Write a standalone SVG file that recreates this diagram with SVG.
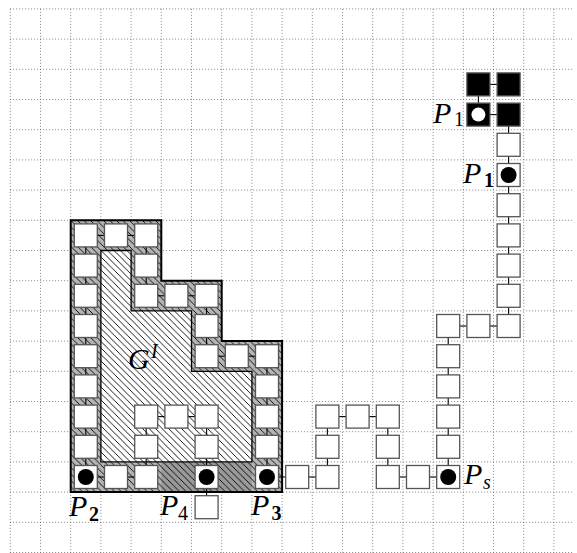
<svg xmlns="http://www.w3.org/2000/svg" width="577" height="553" viewBox="0 0 577 553">
<style>
.grid{stroke:#444;stroke-width:0.8;stroke-dasharray:0.8 2.2;fill:none}
.box{fill:#fff;stroke:#555;stroke-width:1.3}
.blk{fill:#000;stroke:#555;stroke-width:1.3}
.dot{fill:#000}
.wdot{fill:#fff}
.con line{stroke:#000;stroke-width:1.1}
.lbl{font-family:"Liberation Serif","Times New Roman",serif;font-style:italic;font-size:30px;fill:#000}
.sub{font-family:"Liberation Serif","Times New Roman",serif;font-size:20px;fill:#000}
.b{font-weight:bold;font-style:normal}
.i{font-style:italic}
</style>
<defs>
<pattern id="hatch" patternUnits="userSpaceOnUse" width="6.5" height="6.5">
<path d="M0,0 L6.5,6.5 M-1,5.5 L1,7.5 M5.5,-1 L7.5,1" stroke="#000" stroke-width="0.9"/>
</pattern>
</defs>
<g id="grid">
<path class="grid" d="M10.3,8.9V552.5M40.5,8.9V552.5M70.7,8.9V552.5M100.9,8.9V552.5M131.1,8.9V552.5M161.3,8.9V552.5M191.5,8.9V552.5M221.7,8.9V552.5M251.9,8.9V552.5M282.1,8.9V552.5M312.3,8.9V552.5M342.5,8.9V552.5M372.7,8.9V552.5M402.9,8.9V552.5M433.1,8.9V552.5M463.3,8.9V552.5M493.5,8.9V552.5M523.7,8.9V552.5M553.9,8.9V552.5"/>
<path class="grid" d="M10.3,8.9H573M10.3,39.1H573M10.3,69.3H573M10.3,99.5H573M10.3,129.7H573M10.3,159.9H573M10.3,190.1H573M10.3,220.3H573M10.3,250.5H573M10.3,280.7H573M10.3,310.9H573M10.3,341.1H573M10.3,371.3H573M10.3,401.5H573M10.3,431.7H573M10.3,461.9H573M10.3,492.1H573M10.3,522.3H573M10.3,552.5H573"/>
</g>
<g id="gadget">
<path d="M70.7,220.3H161.3V280.7H221.7V341.1H282.1V492.1H70.7Z M100.9,250.5V461.9H251.9V371.3H191.5V310.9H131.1V250.5Z" fill="#b4b4b4" fill-rule="evenodd"/>
<path d="M70.7,220.3H161.3V280.7H221.7V341.1H282.1V492.1H70.7Z M100.9,250.5V461.9H251.9V371.3H191.5V310.9H131.1V250.5Z" fill="url(#hatch)" fill-rule="evenodd"/>
<rect x="161.3" y="461.9" width="90.6" height="30.2" fill="#999"/>
<path d="M100.9,250.5H131.1V310.9H191.5V371.3H251.9V461.9H100.9Z" fill="#fff"/>
<path d="M100.9,250.5H131.1V310.9H191.5V371.3H251.9V461.9H100.9Z" fill="url(#hatch)"/>
<rect x="161.3" y="461.9" width="90.6" height="30.2" fill="url(#hatch)"/>
<path d="M100.9,250.5H131.1V310.9H191.5V371.3H251.9V461.9H100.9Z" fill="none" stroke="#000" stroke-width="1.3"/>
<path d="M70.7,220.3H161.3V280.7H221.7V341.1H282.1V492.1H70.7Z" fill="none" stroke="#000" stroke-width="2"/>
<text class="lbl" x="128" y="369.3">G</text><text class="sub i" x="151" y="357.5">I</text>
</g>
<g id="connectors" class="con">
<line x1="489.9" y1="84.4" x2="497.1" y2="84.4"/>
<line x1="478.4" y1="95.9" x2="478.4" y2="103.1"/>
<line x1="489.9" y1="114.6" x2="497.1" y2="114.6"/>
<line x1="508.6" y1="126.1" x2="508.6" y2="133.3"/>
<line x1="508.6" y1="156.3" x2="508.6" y2="163.5"/>
<line x1="508.6" y1="186.5" x2="508.6" y2="193.7"/>
<line x1="508.6" y1="216.7" x2="508.6" y2="223.9"/>
<line x1="508.6" y1="246.9" x2="508.6" y2="254.1"/>
<line x1="508.6" y1="277.1" x2="508.6" y2="284.3"/>
<line x1="508.6" y1="307.3" x2="508.6" y2="314.5"/>
<line x1="459.7" y1="326" x2="466.9" y2="326"/>
<line x1="489.9" y1="326" x2="497.1" y2="326"/>
<line x1="448.2" y1="337.5" x2="448.2" y2="344.7"/>
<line x1="448.2" y1="367.7" x2="448.2" y2="374.9"/>
<line x1="448.2" y1="397.9" x2="448.2" y2="405.1"/>
<line x1="448.2" y1="428.1" x2="448.2" y2="435.3"/>
<line x1="448.2" y1="458.3" x2="448.2" y2="465.5"/>
<line x1="429.5" y1="477" x2="436.7" y2="477"/>
<line x1="399.3" y1="477" x2="406.5" y2="477"/>
<line x1="387.8" y1="458.3" x2="387.8" y2="465.5"/>
<line x1="387.8" y1="428.1" x2="387.8" y2="435.3"/>
<line x1="369.1" y1="416.6" x2="376.3" y2="416.6"/>
<line x1="338.9" y1="416.6" x2="346.1" y2="416.6"/>
<line x1="327.4" y1="428.1" x2="327.4" y2="435.3"/>
<line x1="327.4" y1="458.3" x2="327.4" y2="465.5"/>
<line x1="308.7" y1="477" x2="315.9" y2="477"/>
<line x1="278.5" y1="477" x2="285.7" y2="477"/>
<line x1="85.8" y1="246.9" x2="85.8" y2="254.1"/>
<line x1="85.8" y1="277.1" x2="85.8" y2="284.3"/>
<line x1="85.8" y1="307.3" x2="85.8" y2="314.5"/>
<line x1="85.8" y1="337.5" x2="85.8" y2="344.7"/>
<line x1="85.8" y1="367.7" x2="85.8" y2="374.9"/>
<line x1="85.8" y1="397.9" x2="85.8" y2="405.1"/>
<line x1="85.8" y1="428.1" x2="85.8" y2="435.3"/>
<line x1="85.8" y1="458.3" x2="85.8" y2="465.5"/>
<line x1="97.3" y1="235.4" x2="104.5" y2="235.4"/>
<line x1="127.5" y1="235.4" x2="134.7" y2="235.4"/>
<line x1="146.2" y1="246.9" x2="146.2" y2="254.1"/>
<line x1="146.2" y1="277.1" x2="146.2" y2="284.3"/>
<line x1="157.7" y1="295.8" x2="164.9" y2="295.8"/>
<line x1="187.9" y1="295.8" x2="195.1" y2="295.8"/>
<line x1="206.6" y1="307.3" x2="206.6" y2="314.5"/>
<line x1="206.6" y1="337.5" x2="206.6" y2="344.7"/>
<line x1="218.1" y1="356.2" x2="225.3" y2="356.2"/>
<line x1="248.3" y1="356.2" x2="255.5" y2="356.2"/>
<line x1="267" y1="367.7" x2="267" y2="374.9"/>
<line x1="267" y1="397.9" x2="267" y2="405.1"/>
<line x1="267" y1="428.1" x2="267" y2="435.3"/>
<line x1="267" y1="458.3" x2="267" y2="465.5"/>
<line x1="97.3" y1="477" x2="104.5" y2="477"/>
<line x1="127.5" y1="477" x2="134.7" y2="477"/>
<line x1="157.7" y1="416.6" x2="164.9" y2="416.6"/>
<line x1="187.9" y1="416.6" x2="195.1" y2="416.6"/>
<line x1="146.2" y1="428.1" x2="146.2" y2="435.3"/>
<line x1="206.6" y1="428.1" x2="206.6" y2="435.3"/>
<line x1="146.2" y1="458.3" x2="146.2" y2="465.5"/>
<line x1="206.6" y1="458.3" x2="206.6" y2="465.5"/>
<line x1="206.6" y1="488.5" x2="206.6" y2="495.7"/>
</g>
<g id="nodes">
<g id="n15_2"><rect class="blk" x="466.9" y="72.9" width="23" height="23"/></g>
<g id="n16_2"><rect class="blk" x="497.1" y="72.9" width="23" height="23"/></g>
<g id="n15_3"><rect class="blk" x="466.9" y="103.1" width="23" height="23"/><circle class="wdot" cx="478.4" cy="114.6" r="7"/></g>
<g id="n16_3"><rect class="blk" x="497.1" y="103.1" width="23" height="23"/></g>
<g id="n16_4"><rect class="box" x="497.1" y="133.3" width="23" height="23"/></g>
<g id="n16_5"><rect class="box" x="497.1" y="163.5" width="23" height="23"/><circle class="dot" cx="508.6" cy="175" r="8"/></g>
<g id="n16_6"><rect class="box" x="497.1" y="193.7" width="23" height="23"/></g>
<g id="n16_7"><rect class="box" x="497.1" y="223.9" width="23" height="23"/></g>
<g id="n16_8"><rect class="box" x="497.1" y="254.1" width="23" height="23"/></g>
<g id="n16_9"><rect class="box" x="497.1" y="284.3" width="23" height="23"/></g>
<g id="n16_10"><rect class="box" x="497.1" y="314.5" width="23" height="23"/></g>
<g id="n15_10"><rect class="box" x="466.9" y="314.5" width="23" height="23"/></g>
<g id="n14_10"><rect class="box" x="436.7" y="314.5" width="23" height="23"/></g>
<g id="n14_11"><rect class="box" x="436.7" y="344.7" width="23" height="23"/></g>
<g id="n14_12"><rect class="box" x="436.7" y="374.9" width="23" height="23"/></g>
<g id="n14_13"><rect class="box" x="436.7" y="405.1" width="23" height="23"/></g>
<g id="n14_14"><rect class="box" x="436.7" y="435.3" width="23" height="23"/></g>
<g id="n14_15"><rect class="box" x="436.7" y="465.5" width="23" height="23"/><circle class="dot" cx="448.2" cy="477" r="8"/></g>
<g id="n13_15"><rect class="box" x="406.5" y="465.5" width="23" height="23"/></g>
<g id="n12_15"><rect class="box" x="376.3" y="465.5" width="23" height="23"/></g>
<g id="n12_14"><rect class="box" x="376.3" y="435.3" width="23" height="23"/></g>
<g id="n12_13"><rect class="box" x="376.3" y="405.1" width="23" height="23"/></g>
<g id="n11_13"><rect class="box" x="346.1" y="405.1" width="23" height="23"/></g>
<g id="n10_13"><rect class="box" x="315.9" y="405.1" width="23" height="23"/></g>
<g id="n10_14"><rect class="box" x="315.9" y="435.3" width="23" height="23"/></g>
<g id="n10_15"><rect class="box" x="315.9" y="465.5" width="23" height="23"/></g>
<g id="n9_15"><rect class="box" x="285.7" y="465.5" width="23" height="23"/></g>
<g id="n2_7"><rect class="box" x="74.3" y="223.9" width="23" height="23"/></g>
<g id="n3_7"><rect class="box" x="104.5" y="223.9" width="23" height="23"/></g>
<g id="n4_7"><rect class="box" x="134.7" y="223.9" width="23" height="23"/></g>
<g id="n2_8"><rect class="box" x="74.3" y="254.1" width="23" height="23"/></g>
<g id="n4_8"><rect class="box" x="134.7" y="254.1" width="23" height="23"/></g>
<g id="n2_9"><rect class="box" x="74.3" y="284.3" width="23" height="23"/></g>
<g id="n4_9"><rect class="box" x="134.7" y="284.3" width="23" height="23"/></g>
<g id="n5_9"><rect class="box" x="164.9" y="284.3" width="23" height="23"/></g>
<g id="n6_9"><rect class="box" x="195.1" y="284.3" width="23" height="23"/></g>
<g id="n2_10"><rect class="box" x="74.3" y="314.5" width="23" height="23"/></g>
<g id="n6_10"><rect class="box" x="195.1" y="314.5" width="23" height="23"/></g>
<g id="n2_11"><rect class="box" x="74.3" y="344.7" width="23" height="23"/></g>
<g id="n6_11"><rect class="box" x="195.1" y="344.7" width="23" height="23"/></g>
<g id="n7_11"><rect class="box" x="225.3" y="344.7" width="23" height="23"/></g>
<g id="n8_11"><rect class="box" x="255.5" y="344.7" width="23" height="23"/></g>
<g id="n2_12"><rect class="box" x="74.3" y="374.9" width="23" height="23"/></g>
<g id="n8_12"><rect class="box" x="255.5" y="374.9" width="23" height="23"/></g>
<g id="n2_13"><rect class="box" x="74.3" y="405.1" width="23" height="23"/></g>
<g id="n8_13"><rect class="box" x="255.5" y="405.1" width="23" height="23"/></g>
<g id="n2_14"><rect class="box" x="74.3" y="435.3" width="23" height="23"/></g>
<g id="n8_14"><rect class="box" x="255.5" y="435.3" width="23" height="23"/></g>
<g id="n2_15"><rect class="box" x="74.3" y="465.5" width="23" height="23"/><circle class="dot" cx="85.8" cy="477" r="8"/></g>
<g id="n3_15"><rect class="box" x="104.5" y="465.5" width="23" height="23"/></g>
<g id="n4_15"><rect class="box" x="134.7" y="465.5" width="23" height="23"/></g>
<g id="n6_15"><rect class="box" x="195.1" y="465.5" width="23" height="23"/><circle class="dot" cx="206.6" cy="477" r="8"/></g>
<g id="n8_15"><rect class="box" x="255.5" y="465.5" width="23" height="23"/><circle class="dot" cx="267" cy="477" r="8"/></g>
<g id="n4_13"><rect class="box" x="134.7" y="405.1" width="23" height="23"/></g>
<g id="n5_13"><rect class="box" x="164.9" y="405.1" width="23" height="23"/></g>
<g id="n6_13"><rect class="box" x="195.1" y="405.1" width="23" height="23"/></g>
<g id="n4_14"><rect class="box" x="134.7" y="435.3" width="23" height="23"/></g>
<g id="n6_14"><rect class="box" x="195.1" y="435.3" width="23" height="23"/></g>
<g id="n6_16"><rect class="box" x="195.1" y="495.7" width="23" height="23"/></g>
</g>
<g id="labels">
<text class="lbl" x="433" y="122.7">P</text><text class="sub" x="454" y="125.5">1</text>
<text class="lbl" x="463" y="183.3">P</text><text class="sub b" x="484" y="186.7">1</text>
<text class="lbl" x="464" y="484.3">P</text><text class="sub i" x="483" y="489.3">s</text>
<text class="lbl" x="69" y="515.7">P</text><text class="sub b" x="89" y="520.7">2</text>
<text class="lbl" x="160" y="515">P</text><text class="sub" x="178" y="520">4</text>
<text class="lbl" x="251" y="515">P</text><text class="sub b" x="271.5" y="520">3</text>
</g>
</svg>
